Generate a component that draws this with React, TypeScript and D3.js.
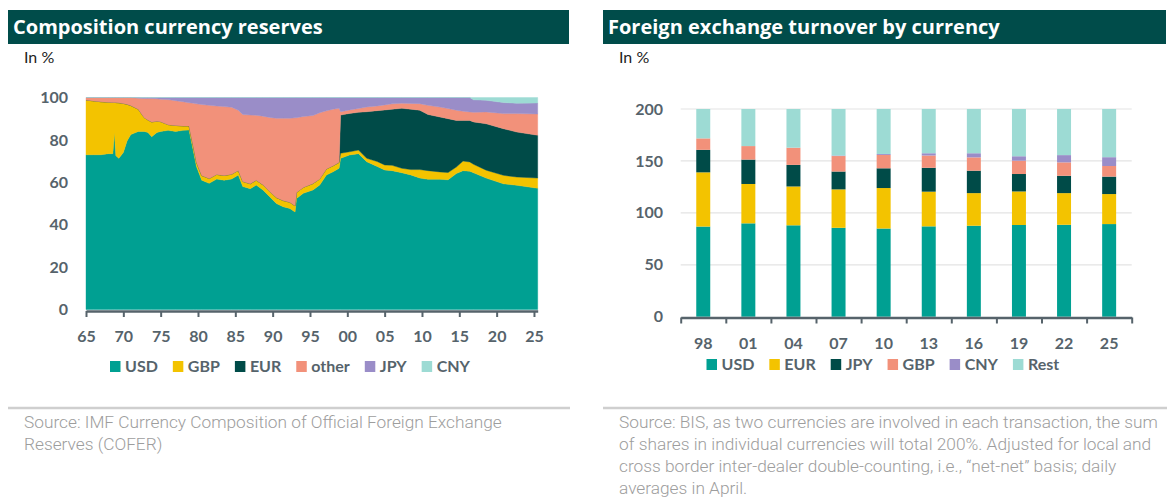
import React, { useEffect, useRef } from "react"
import * as d3 from "d3"

// IMF COFER shares (in %)
const reserveYears = [
  1965, 1966, 1967, 1968, 1968.6, 1968.8, 1969, 1969.4, 1970, 1970.5, 1971, 1972, 1972.8, 1973.3, 1973.8,
  1974.5, 1975, 1976, 1977, 1978, 1978.8, 1979.4, 1979.8, 1980.5, 1981.5, 1982.5, 1983.5, 1984.5, 1985.4,
  1986, 1987, 1987.8, 1988.7, 1989.6, 1990.5, 1991.4, 1992.3, 1993, 1993.2, 1994.1, 1995.4, 1996.3, 1997.2,
  1998.1, 1998.9, 1999.1, 2000.3, 2001.5, 2002.6, 2004, 2005, 2006, 2007.3, 2008.5, 2009.7, 2010.8, 2012.4,
  2013.5, 2014.6, 2015.5, 2016.4, 2016.9, 2018.6, 2020.9, 2022.7, 2025.5,
]
const usdReserve = [
  73, 73, 73, 73.5, 73.5, 83.5, 72.5, 71.3, 74, 79.5, 82.5, 84, 84, 83.5, 81.5,
  83.5, 84, 84.5, 84, 84.5, 84.7, 74.4, 67.4, 61, 59.5, 61.5, 61, 61.5, 63.4,
  58, 57, 58.7, 56.4, 53.2, 50, 48.5, 47.7, 46, 52.4, 54.8, 56.4, 58.7, 63.4,
  65, 66.6, 71.3, 72.9, 73.5, 69.7, 67.5, 65.8, 65.5, 64.5, 63.5, 62, 61.4, 61.4,
  61.2, 64.1, 65.5, 65.2, 64.5, 62, 59.3, 58.6, 57.2,
]
const gbpReserve = [
  25.8, 25.4, 25, 24.3, 24.2, 14.2, 25.1, 26.2, 23.2, 17.3, 13.7, 10.5, 6.5, 5.9, 7,
  5.3, 4.6, 2.7, 2.8, 2.1, 1.9, 2.2, 2.1, 2.2, 2.3, 2.2, 2.2, 2.3, 2.2,
  2.4, 2.3, 2.3, 2.4, 2.5, 2.8, 2.9, 2.9, 2.9, 2.8, 2.8, 3, 2.9, 2.9,
  2.8, 2.8, 2.4, 1.5, 1.7, 1.6, 2.3, 2.4, 2.5, 2.1, 2.5, 4, 4.1, 3.5,
  3.4, 3.1, 4.5, 4.4, 4, 3.7, 4, 3.9, 4.8,
]
const eurReserve = [
  0, 0, 0, 0, 0, 0, 0, 0, 0, 0, 0, 0, 0, 0, 0,
  0, 0, 0, 0, 0, 0, 0, 0, 0, 0, 0, 0, 0, 0,
  0, 0, 0, 0, 0, 0, 0, 0, 0, 0, 0, 0, 0, 0,
  0, 0, 18, 18.1, 17.8, 22, 24, 25.9, 26.5, 28.3, 28.5, 28, 26.5, 25.9,
  25.4, 22, 19.2, 19.6, 20, 21.9, 22, 21.2, 20.2,
]
const otherReserve = [
  1.2, 1.6, 2, 2.2, 2.3, 2.3, 2.4, 2.5, 2.8, 3.2, 3.8, 5.2, 9, 10.1, 11,
  10.6, 10.6, 11.8, 11.7, 11.4, 10.9, 20.7, 27.5, 33.5, 34.5, 32.3, 32.5, 31.6, 28.4,
  31.6, 32.4, 30.6, 32.4, 34.9, 37.4, 38.8, 39.6, 41.5, 35.3, 33.4, 32.1, 31.2, 27.4,
  26.7, 25.5, 1.6, 1.6, 1.8, 2.2, 2.2, 2.4, 2.5, 2.4, 2.7, 3.1, 4.3, 4.7,
  4.8, 4.8, 4.3, 4, 4.5, 5.6, 7.1, 8.7, 10,
]
const jpyReserve = [
  0, 0, 0, 0, 0, 0, 0, 0, 0, 0, 0, 0.3, 0.5, 0.5, 0.5,
  0.6, 0.8, 1, 1.5, 2, 2.5, 2.7, 3, 3.3, 3.7, 4, 4.3, 4.6, 6,
  8, 8.3, 8.4, 8.8, 9.4, 9.8, 9.8, 9.8, 9.6, 9.5, 9, 8.5, 7.2, 6.3,
  5.5, 5.1, 6.7, 5.9, 5.2, 4.5, 4, 3.5, 3, 2.7, 2.8, 2.9, 3.7, 4.5,
  5.2, 6, 6.5, 6.8, 5.9, 5.5, 5.2, 4.9, 5.2,
]
const cnyReserve = [
  0, 0, 0, 0, 0, 0, 0, 0, 0, 0, 0, 0, 0, 0, 0,
  0, 0, 0, 0, 0, 0, 0, 0, 0, 0, 0, 0, 0, 0,
  0, 0, 0, 0, 0, 0, 0, 0, 0, 0, 0, 0, 0, 0,
  0, 0, 0, 0, 0, 0, 0, 0, 0, 0, 0, 0, 0, 0,
  0, 0, 0, 0, 1.1, 1.3, 2.4, 2.7, 2.6,
]
const reserveTicks = [1965, 1970, 1975, 1980, 1985, 1990, 1995, 2000, 2005, 2010, 2015, 2020, 2025]
const reserveKeys = ["USD", "GBP", "EUR", "other", "JPY", "CNY"]

// BIS turnover shares (sum 200%)
const turnoverYears = ["98", "01", "04", "07", "10", "13", "16", "19", "22", "25"]
const usdTurnover = [86.8, 89.9, 88.0, 85.6, 84.9, 87.0, 87.6, 88.3, 88.5, 89.2]
const eurTurnover = [52.2, 37.9, 37.4, 37.0, 39.0, 33.4, 31.4, 32.3, 30.5, 28.9]
const jpyTurnover = [21.7, 23.5, 20.8, 17.2, 19.0, 23.0, 21.6, 16.8, 16.7, 16.8]
const gbpTurnover = [11.0, 13.0, 16.5, 14.9, 12.9, 11.8, 12.8, 12.8, 12.9, 10.2]
const cnyTurnover = [0.0, 0.0, 0.1, 0.5, 0.9, 2.2, 4.0, 4.3, 7.0, 8.5]
const restTurnover = [28.3, 35.7, 37.2, 44.8, 43.3, 42.6, 42.6, 45.5, 44.4, 46.4]
const turnoverKeys = ["USD", "EUR", "JPY", "GBP", "CNY", "Rest"]

const rightColors: Record<string, string> = {
  USD: "#00A092",
  EUR: "#F3C300",
  JPY: "#004B48",
  GBP: "#F2917A",
  CNY: "#9A8DC8",
  Rest: "#9DDBD4",
}
const leftColors: Record<string, string> = {
  USD: "#00A092",
  GBP: "#F3C300",
  EUR: "#004B48",
  other: "#F2917A",
  JPY: "#9A8DC8",
  CNY: "#9DDBD4",
}

const TITLE_BG = "#004C4A"
const AXIS = "#56636B"
const FONT = "Lato, 'Open Sans', sans-serif"

export default function App() {
  const svgRef = useRef<SVGSVGElement>(null)

  useEffect(() => {
    if (!svgRef.current) return
    const svg = d3.select(svgRef.current)
    svg.selectAll("*").remove()

    // panel headers
    const panels = [
      { x: 8, w: 561, title: "Composition currency reserves" },
      { x: 603, w: 563, title: "Foreign exchange turnover by currency" },
    ]
    panels.forEach(p => {
      svg.append("rect").attr("x", p.x).attr("y", 10).attr("width", p.w).attr("height", 34).attr("fill", TITLE_BG)
      svg.append("text").attr("x", p.x + 5).attr("y", 34).attr("fill", "#fff")
        .attr("font-family", "'Open Sans', sans-serif").attr("font-weight", 700).attr("font-size", "20px").text(p.title)
      svg.append("text").attr("x", p.x + 16).attr("y", 63).attr("fill", "#222")
        .attr("font-family", FONT).attr("font-size", "16px").text("In %")
      svg.append("line").attr("x1", p.x).attr("x2", p.x + p.w + 1).attr("y1", 408).attr("y2", 408)
        .attr("stroke", "#cfcfcf").attr("stroke-width", 2.5)
    })

    // left: stacked area
    const rows = reserveYears.map((year, i) => ({
      year,
      USD: usdReserve[i],
      GBP: gbpReserve[i],
      EUR: eurReserve[i],
      other: otherReserve[i],
      JPY: jpyReserve[i],
      CNY: cnyReserve[i],
    }))
    const xL = d3.scaleLinear().domain([1965, 2025.5]).range([86, 537.7])
    const yL = d3.scaleLinear().domain([0, 100]).range([309.5, 97.5])
    const stackL = d3.stack<any>().keys(reserveKeys)(rows)
    const area = d3.area<any>()
      .x(d => xL(d.data.year))
      .y0(d => yL(d[0]))
      .y1(d => yL(Math.min(100, d[1])))

    svg.append("g").selectAll("path").data(stackL).enter().append("path")
      .attr("d", d => area(d as any) || "")
      .attr("fill", d => leftColors[d.key])
      .attr("stroke", d => leftColors[d.key]).attr("stroke-width", 0.4)

    const axL = svg.append("g").attr("transform", "translate(0,311)")
      .call(d3.axisBottom(xL).tickValues(reserveTicks).tickSize(6).tickSizeOuter(0)
        .tickFormat(d => String(d).slice(2)))
    axL.select(".domain").attr("stroke", AXIS).attr("stroke-width", 2.5)
    axL.selectAll(".tick line").attr("stroke", AXIS).attr("stroke-width", 2)
    axL.selectAll(".tick text").attr("y", 20).attr("fill", AXIS)
      .attr("font-family", FONT).attr("font-weight", 700).attr("font-size", "16px")

    const ayL = svg.append("g").attr("transform", "translate(68,0)")
      .call(d3.axisLeft(yL).tickValues([0, 20, 40, 60, 80, 100]).tickSize(0).tickPadding(0))
    ayL.select(".domain").remove()
    ayL.selectAll(".tick text").attr("fill", AXIS)
      .attr("font-family", FONT).attr("font-weight", 700).attr("font-size", "16px")

    // right: stacked bars
    const barRows = turnoverYears.map((year, i) => ({
      year,
      USD: usdTurnover[i],
      EUR: eurTurnover[i],
      JPY: jpyTurnover[i],
      GBP: gbpTurnover[i],
      CNY: cnyTurnover[i],
      Rest: restTurnover[i],
    }))
    const xR = d3.scaleBand().domain(turnoverYears).range([680.7, 1131.7]).paddingInner(0.69).paddingOuter(0.345)
    const yR = d3.scaleLinear().domain([0, 200]).range([316.7, 109])

    svg.append("g").selectAll("line").data([50, 100, 150, 200]).enter().append("line")
      .attr("x1", 680.7).attr("x2", 1131.7)
      .attr("y1", d => yR(d)).attr("y2", d => yR(d))
      .attr("stroke", "#e3e3e3").attr("stroke-width", 1.2)

    const stackR = d3.stack<any>().keys(turnoverKeys)(barRows)
    svg.append("g").selectAll("g").data(stackR).enter().append("g")
      .attr("fill", d => rightColors[d.key])
      .selectAll("rect").data(d => d).enter().append("rect")
      .attr("x", d => xR(d.data.year) || 0)
      .attr("width", xR.bandwidth())
      .attr("y", d => yR(Math.min(200, d[1])))
      .attr("height", d => yR(d[0]) - yR(Math.min(200, d[1])))

    // tick marks sit on the band edges
    const edge = d3.scaleLinear().domain([0, turnoverYears.length]).range([680.7, 1131.7])
    const axEdges = svg.append("g").attr("transform", "translate(0,317.5)")
      .call(d3.axisBottom(edge).tickValues(d3.range(turnoverYears.length + 1)).tickSize(6).tickSizeOuter(0).tickFormat(() => ""))
    axEdges.select(".domain").attr("stroke", AXIS).attr("stroke-width", 2.5)
    axEdges.selectAll(".tick line").attr("stroke", AXIS).attr("stroke-width", 2)

    const axR = svg.append("g").attr("transform", "translate(0,317.5)")
      .call(d3.axisBottom(xR).tickSize(0))
    axR.select(".domain").remove()
    axR.selectAll(".tick text").attr("y", 20).attr("fill", AXIS)
      .attr("font-family", FONT).attr("font-weight", 700).attr("font-size", "16px")

    const ayR = svg.append("g").attr("transform", "translate(663,0)")
      .call(d3.axisLeft(yR).tickValues([0, 50, 100, 150, 200]).tickSize(0).tickPadding(0))
    ayR.select(".domain").remove()
    ayR.selectAll(".tick text").attr("fill", AXIS)
      .attr("font-family", FONT).attr("font-weight", 700).attr("font-size", "16px")

    // legends
    const legend = (keys: string[], palette: Record<string, string>, x0: number, cy: number) => {
      let x = x0
      keys.forEach(k => {
        svg.append("rect").attr("x", x).attr("y", cy - 5.5).attr("width", 10.5).attr("height", 11).attr("fill", palette[k])
        const t = svg.append("text").attr("x", x + 15).attr("y", cy).attr("dy", "0.35em")
          .attr("fill", AXIS).attr("font-family", FONT).attr("font-weight", 700).attr("font-size", "16px").text(k)
        const w = (t.node() as SVGTextElement).getComputedTextLength()
        x = x + 15 + w + 15
      })
    }
    legend(reserveKeys, leftColors, 110, 366.5)
    legend(turnoverKeys, rightColors, 706.5, 364.5)

    // sources
    const source = (x: number, lines: string[]) => {
      lines.forEach((l, i) => {
        svg.append("text").attr("x", x).attr("y", 428 + i * 22).attr("fill", "#9d9d9d")
          .attr("font-family", "Roboto, sans-serif").attr("font-weight", 300).attr("font-size", "17.3px").text(l)
      })
    }
    source(24, [
      "Source: IMF Currency Composition of Official Foreign Exchange",
      "Reserves (COFER)",
    ])
    source(619, [
      "Source: BIS, as two currencies are involved in each transaction, the sum",
      "of shares in individual currencies will total 200%. Adjusted for local and",
      "cross border inter-dealer double-counting, i.e., \u201cnet-net\u201d basis; daily",
      "averages in April.",
    ])
  }, [])

  return (
    <svg
      ref={svgRef}
      width={1176}
      height={502}
      style={{ position: "absolute", left: 0, top: 0, background: "#fff" }}
    />
  )
}
